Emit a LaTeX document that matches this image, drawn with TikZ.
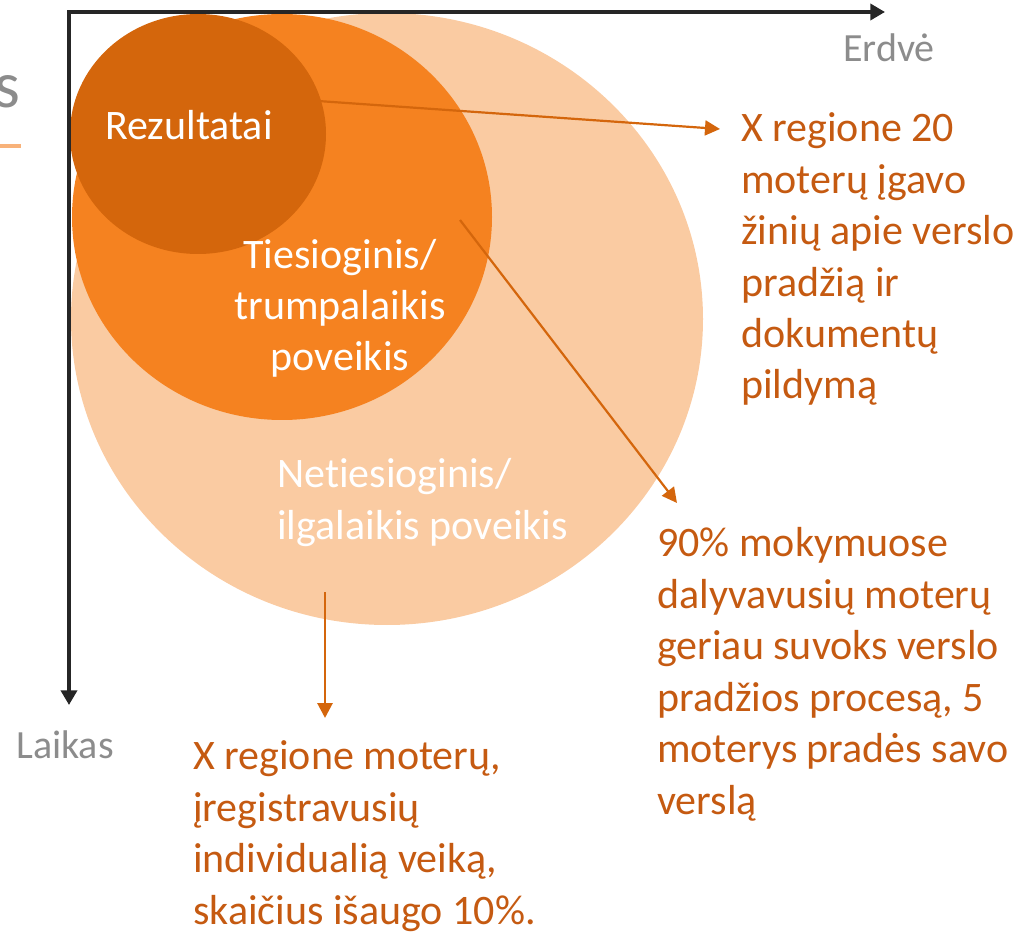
\documentclass[tikz,border=0pt]{standalone}
\usepackage{fontspec}
\setmainfont{Carlito}[Ligatures=NoCommon]
\usetikzlibrary{arrows.meta,shapes.geometric}
\definecolor{cdark}{HTML}{D4660C}
\definecolor{cmed}{HTML}{F58220}
\definecolor{clight}{HTML}{FACBA2}
\definecolor{ctext}{HTML}{C55A11}
\definecolor{cgray}{HTML}{8C8C8C}
\definecolor{caxis}{HTML}{262626}
\definecolor{cline}{HTML}{F8B27A}
\tikzset{
  blob/.style={ellipse, inner sep=0pt, draw=none},
  bigtxt/.style={inner sep=0pt, font=\fontsize{31.5}{38.6}\selectfont},
  desc/.style={bigtxt, text=ctext, align=left, anchor=base west},
  intxt/.style={bigtxt, text=white},
  axlabel/.style={inner sep=0pt, text=cgray, font=\fontsize{30}{36}\selectfont, anchor=base west},
  pointer/.style={draw=cdark, line width=1.65pt, -{Triangle[length=11.25pt,width=11.25pt]}},
  axis/.style={draw=caxis, line width=3pt, -{Triangle[length=11pt,width=12pt]}}
}
\begin{document}
\begin{tikzpicture}[x=0.75pt,y=-0.75pt]
\useasboundingbox (0,0) rectangle (1029,934);
% title fragment
\node[inner sep=0pt, anchor=base west, text=cgray, font=\fontsize{49.5}{60}\selectfont] (ttl) at (-6,108) {s};
\draw[cline, line width=3pt] (0,146) -- (21,146);
% circles
\node[blob, fill=clight, minimum width=632*0.75pt, minimum height=612*0.75pt] (long) at (387,319) {};
\node[blob, fill=cmed, minimum width=420*0.75pt, minimum height=406*0.75pt] (short) at (282,217) {};
\node[blob, fill=cdark, minimum width=256*0.75pt, minimum height=240*0.75pt] (res) at (198,134) {};
% texts in circles (base anchor = last line's baseline)
\node[intxt, anchor=base] (tres) at (189,140) {Rezultatai};
\node[intxt, align=center, anchor=base] (tshort) at (340,371) {Tiesioginis/\\trumpalaikis\\poveikis};
\node[intxt, align=left, anchor=base west] (tlong) at (277,539) {Netiesioginis/\\ilgalaikis poveikis};
% descriptions
\node[desc] (d1) at (741,399) {X regione 20\\moterų įgavo\\žinių apie verslo\\pradžią ir\\dokumentų\\pildymą};
\node[desc] (d2) at (657,814) {90\% mokymuose\\dalyvavusių moterų\\geriau suvoks verslo\\pradžios procesą, 5\\moterys pradės savo\\verslą};
\node[desc] (d3) at (193,924) {X regione moterų,\\įregistravusių\\individualią veiką,\\skaičius išaugo 10\%.};
% pointers
\coordinate (p1s) at (318,101);
\coordinate (p1e) at (720,129);
\coordinate (p2s) at (460,220);
\coordinate (p2e) at (677,503);
\coordinate (p3s) at (325,592);
\coordinate (p3e) at (325,718);
\draw[pointer] (p1s) -- (p1e);
\draw[pointer] (p2s) -- (p2e);
\draw[pointer, line width=2.2pt] (p3s) -- (p3e);
% axes
\coordinate (org) at (69,12);
\coordinate (xend) at (885,12);
\coordinate (yend) at (69,705);
\draw[axis] ([xshift=-1.5pt]org) -- (xend);
\draw[axis] (org) -- (yend);
\node[axlabel] (lx) at (843,62) {Erdvė};
\node[axlabel] (ly) at (16,758) {Laikas};
\end{tikzpicture}
\end{document}
